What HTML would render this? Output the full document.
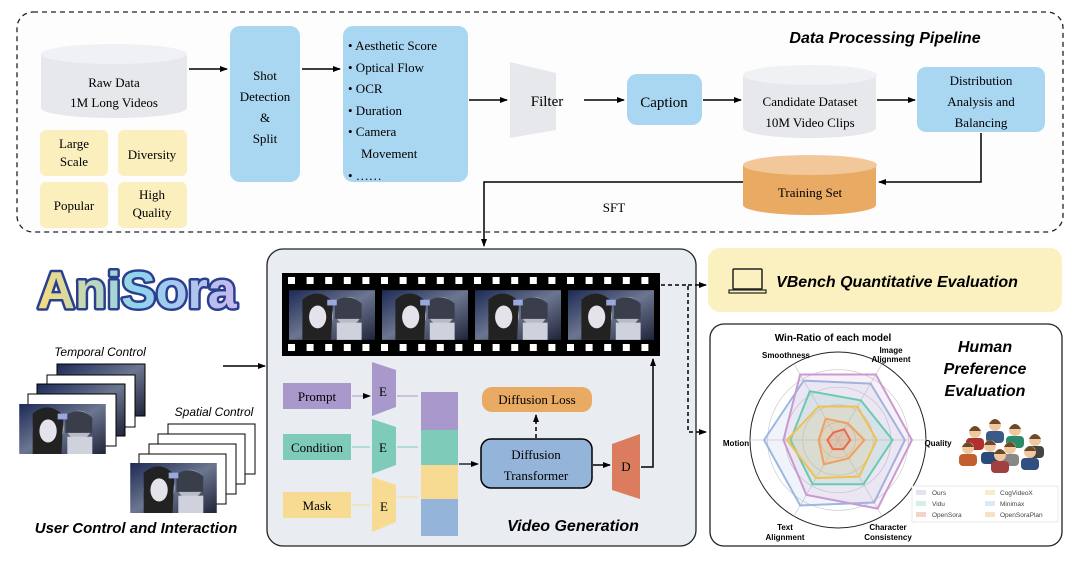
<!DOCTYPE html>
<html><head><meta charset="utf-8"><style>
body{margin:0;background:#fff}
svg{font-family:"Liberation Serif",serif}
.s,.s text{font-family:"Liberation Sans","DejaVu Sans",sans-serif}
</style></head><body>
<svg id="g" width="1080" height="562" viewBox="0 0 1080 562" xmlns="http://www.w3.org/2000/svg">
<defs>
<marker id="a" markerWidth="8" markerHeight="8" refX="7" refY="4" orient="auto" markerUnits="userSpaceOnUse"><path d="M0,1 L8,4 L0,7 z" fill="#000"/></marker>
<linearGradient id="fr" x1="0" y1="0" x2="1" y2="1"><stop offset="0" stop-color="#1d2a55"/><stop offset="0.5" stop-color="#6c7690"/><stop offset="1" stop-color="#20243a"/></linearGradient>
<linearGradient id="logo" x1="0" x2="1"><stop offset="0" stop-color="#f7dc7a"/><stop offset="0.5" stop-color="#8fd3ef"/><stop offset="1" stop-color="#c9b8ee"/></linearGradient>
<symbol id="pic" viewBox="0 0 90 52"><rect width="90" height="52" fill="url(#fr)"/><ellipse cx="30" cy="26" rx="16" ry="20" fill="#d6d6e0"/><path d="M14 10 Q30 -4 46 12 L44 52 L14 52z" fill="#222"/><ellipse cx="30" cy="28" rx="9" ry="12" fill="#e4e2ea"/><ellipse cx="62" cy="22" rx="14" ry="15" fill="#b8bcc8"/><path d="M48 12 Q62 2 76 14 L76 30 L48 30z" fill="#3a3d4a"/><rect x="50" y="34" width="26" height="18" fill="#cfd2dc"/><rect x="40" y="10" width="10" height="6" fill="#9aa8e0"/></symbol>
</defs>
<rect width="1080" height="562" fill="#fff"/>
<rect x="17" y="12" width="1046" height="220" rx="16" fill="#fdfdfe" stroke="#222" stroke-width="1.3" stroke-dasharray="5,4"/>
<text x="885" y="43" font-size="16" font-weight="bold" font-style="italic" class="s" text-anchor="middle">Data Processing Pipeline</text>
<path d="M41 54 L41 108 A73 10 0 0 0 187 108 L187 54" fill="#e6e8ec"/>
<ellipse cx="114" cy="54" rx="73" ry="10" fill="#eff1f4"/>
<text x="114" y="87" font-size="13" text-anchor="middle">Raw Data</text>
<text x="114" y="107" font-size="13" text-anchor="middle">1M Long Videos</text>
<g fill="#fbefbe"><rect x="40" y="130" width="68" height="46" rx="6"/><rect x="118" y="130" width="69" height="46" rx="6"/><rect x="40" y="182" width="68" height="46" rx="6"/><rect x="118" y="182" width="69" height="46" rx="6"/></g>
<g font-size="13" text-anchor="middle"><text x="74" y="148">Large</text><text x="74" y="166">Scale</text><text x="152" y="159">Diversity</text><text x="74" y="210">Popular</text><text x="152" y="199">High</text><text x="152" y="217">Quality</text></g>
<line x1="189" y1="69" x2="227" y2="69" stroke="#000" stroke-width="1.5" marker-end="url(#a)"/>
<rect x="230" y="26" width="70" height="156" rx="10" fill="#a9d6f1"/>
<g font-size="13" text-anchor="middle"><text x="265" y="80">Shot</text><text x="265" y="101">Detection</text><text x="265" y="122">&amp;</text><text x="265" y="143">Split</text></g>
<line x1="302" y1="69" x2="340" y2="69" stroke="#000" stroke-width="1.5" marker-end="url(#a)"/>
<rect x="343" y="26" width="125" height="156" rx="10" fill="#a9d6f1"/>
<g font-size="13"><text x="348" y="50">• Aesthetic Score</text><text x="348" y="72">• Optical Flow</text><text x="348" y="93">• OCR</text><text x="348" y="115">• Duration</text><text x="348" y="136">• Camera</text><text x="361" y="158">Movement</text><text x="348" y="180">• ……</text></g>
<line x1="469" y1="100" x2="507" y2="100" stroke="#000" stroke-width="1.5" marker-end="url(#a)"/>
<path d="M510 62 L556 73 L556 130 L510 138z" fill="#e6e8ec"/>
<text x="547" y="106" font-size="15" text-anchor="middle">Filter</text>
<line x1="584" y1="100" x2="624" y2="100" stroke="#000" stroke-width="1.5" marker-end="url(#a)"/>
<rect x="627" y="74" width="75" height="51" rx="10" fill="#a9d6f1"/>
<text x="664" y="107" font-size="15" text-anchor="middle">Caption</text>
<line x1="703" y1="100" x2="741" y2="100" stroke="#000" stroke-width="1.5" marker-end="url(#a)"/>
<path d="M743 75 L743 128 A66 10 0 0 0 876 128 L876 75" fill="#e6e8ec"/>
<ellipse cx="810" cy="75" rx="67" ry="10" fill="#eff1f4"/>
<text x="810" y="106" font-size="13" text-anchor="middle">Candidate Dataset</text>
<text x="810" y="127" font-size="13" text-anchor="middle">10M Video Clips</text>
<line x1="877" y1="100" x2="915" y2="100" stroke="#000" stroke-width="1.5" marker-end="url(#a)"/>
<rect x="917" y="67" width="128" height="65" rx="9" fill="#a9d6f1"/>
<g font-size="13" text-anchor="middle"><text x="981" y="85">Distribution</text><text x="981" y="106">Analysis and</text><text x="981" y="127">Balancing</text></g>
<path d="M981 133 L981 182 L879 182" fill="none" stroke="#000" stroke-width="1.5" marker-end="url(#a)"/>
<path d="M743 165 L743 205 A66 10 0 0 0 876 205 L876 165" fill="#e9aa64"/>
<ellipse cx="810" cy="165" rx="67" ry="10" fill="#f2c89a"/>
<text x="810" y="197" font-size="13" text-anchor="middle">Training Set</text>
<path d="M743 182 L484 182 L484 246" fill="none" stroke="#000" stroke-width="1.5" marker-end="url(#a)"/>
<text x="614" y="212" font-size="13" text-anchor="middle">SFT</text>
<text x="137" y="308" font-size="52" font-weight="bold" class="s" text-anchor="middle" fill="url(#logo)" stroke="#2b3f8f" stroke-width="5" stroke-linejoin="round" paint-order="stroke">AniSora</text>
<text x="100" y="356" font-size="12" font-style="italic" class="s" text-anchor="middle">Temporal Control</text>
<rect x="57" y="364" width="88" height="52" fill="url(#fr)" stroke="#000"/>
<rect x="47" y="375" width="88" height="52" fill="#fff" stroke="#000"/>
<rect x="37" y="384" width="88" height="52" fill="url(#fr)" stroke="#000"/>
<rect x="28" y="394" width="88" height="52" fill="#fff" stroke="#000"/>
<use href="#pic" x="19" y="404" width="87" height="50"/>
<text x="214" y="416" font-size="12" font-style="italic" class="s" text-anchor="middle">Spatial Control</text>
<rect x="168" y="424" width="87" height="50" fill="#fff" stroke="#000"/>
<rect x="158" y="434" width="87" height="50" fill="#fff" stroke="#000"/>
<rect x="149" y="444" width="87" height="50" fill="#fff" stroke="#000"/>
<rect x="139" y="454" width="87" height="50" fill="#fff" stroke="#000"/>
<use href="#pic" x="130" y="463" width="87" height="50"/>
<text x="136" y="533" font-size="15" font-weight="bold" font-style="italic" class="s" text-anchor="middle">User Control and Interaction</text>
<line x1="223" y1="366" x2="265" y2="366" stroke="#000" stroke-width="1.5" marker-end="url(#a)"/>
<rect x="267" y="249" width="429" height="297" rx="16" fill="#e9edf2" stroke="#222" stroke-width="1.3"/>
<rect x="282" y="273" width="378" height="83" fill="#000"/>
<g id="holes" fill="#fff"></g>
<use href="#pic" x="289" y="290" width="86" height="50"/>
<use href="#pic" x="382" y="290" width="86" height="50"/>
<use href="#pic" x="475" y="290" width="86" height="50"/>
<use href="#pic" x="568" y="290" width="86" height="50"/>
<path d="M661 285 L688 285 L688 432 L706 432" fill="none" stroke="#000" stroke-width="1.5" stroke-dasharray="4,3" marker-end="url(#a)"/>
<line x1="688" y1="285" x2="706" y2="285" stroke="#000" stroke-width="1.5" stroke-dasharray="4,3" marker-end="url(#a)"/>
<rect x="283" y="383" width="68" height="26" fill="#a898cc"/><text x="317" y="401" font-size="13" text-anchor="middle">Prompt</text>
<rect x="283" y="434" width="68" height="26" fill="#7fcbb9"/><text x="317" y="452" font-size="13" text-anchor="middle">Condition</text>
<rect x="283" y="492" width="68" height="26" fill="#f7db93"/><text x="317" y="510" font-size="13" text-anchor="middle">Mask</text>
<path d="M372 362 L396 370 L396 407 L372 416z" fill="#a898cc"/><text x="383" y="396" font-size="13" text-anchor="middle">E</text>
<path d="M372 419 L396 427 L396 465 L372 474z" fill="#7fcbb9"/><text x="383" y="452" font-size="13" text-anchor="middle">E</text>
<path d="M372 477 L396 485 L396 522 L372 532z" fill="#f7db93"/><text x="384" y="511" font-size="13" text-anchor="middle">E</text>
<g stroke-width="1" fill="none"><line x1="352" y1="396" x2="370" y2="396" stroke="#a898cc" marker-end="url(#a)"/><line x1="397" y1="396" x2="418" y2="396" stroke="#a898cc"/><line x1="352" y1="447" x2="370" y2="447" stroke="#7fcbb9"/><line x1="397" y1="447" x2="418" y2="447" stroke="#7fcbb9"/><line x1="352" y1="505" x2="370" y2="505" stroke="#f7db93"/><line x1="397" y1="497" x2="418" y2="497" stroke="#f7db93"/></g>
<rect x="421" y="392" width="37" height="38" fill="#a898cc"/>
<rect x="421" y="430" width="37" height="35" fill="#7fcbb9"/>
<rect x="421" y="465" width="37" height="34" fill="#f7db93"/>
<rect x="421" y="499" width="37" height="37" fill="#95b4d9"/>
<line x1="459" y1="464" x2="478" y2="464" stroke="#000" stroke-width="1.2" marker-end="url(#a)"/>
<rect x="481" y="439" width="111" height="49" rx="10" fill="#95b4d9" stroke="#000" stroke-width="1.5"/>
<text x="536" y="459" font-size="13" text-anchor="middle">Diffusion</text><text x="536" y="480" font-size="13" text-anchor="middle">Transformer</text>
<rect x="482" y="387" width="110" height="25" rx="10" fill="#e9aa64"/>
<text x="537" y="404" font-size="13" text-anchor="middle">Diffusion Loss</text>
<line x1="536" y1="438" x2="536" y2="415" stroke="#000" stroke-width="1.5" stroke-dasharray="4,3" marker-end="url(#a)"/>
<line x1="593" y1="465" x2="610" y2="465" stroke="#000" stroke-width="1.5" marker-end="url(#a)"/>
<path d="M612 444 L640 434 L640 499 L612 490z" fill="#dc7c5e"/><text x="626" y="471" font-size="13" text-anchor="middle">D</text>
<path d="M641 467 L653 467 L653 359" fill="none" stroke="#000" stroke-width="1.5" marker-end="url(#a)"/>
<text x="573" y="531" font-size="16" font-weight="bold" font-style="italic" class="s" text-anchor="middle">Video Generation</text>
<rect x="708" y="248" width="354" height="64" rx="12" fill="#fbf0c0"/>
<rect x="733" y="269" width="29" height="20" rx="1" fill="none" stroke="#222" stroke-width="1.5"/>
<rect x="729" y="290" width="37" height="3" fill="none" stroke="#222" stroke-width="1.2"/>
<text x="897" y="287" font-size="16" font-weight="bold" font-style="italic" class="s" text-anchor="middle">VBench Quantitative Evaluation</text>
<rect x="710" y="324" width="352" height="222" rx="14" fill="#fff" stroke="#222" stroke-width="1.3"/>
<text x="833" y="341" font-size="10" font-weight="bold" class="s" text-anchor="middle">Win-Ratio of each model</text>
<g id="radar"></g>
<g font-size="8" font-weight="bold" class="s" text-anchor="middle">
<text x="786" y="358">Smoothness</text><text x="891" y="353">Image</text><text x="891" y="362">Alignment</text>
<text x="938" y="446">Quality</text><text x="736" y="446">Motion</text>
<text x="785" y="530">Text</text><text x="785" y="540">Alignment</text>
<text x="888" y="530">Character</text><text x="888" y="540">Consistency</text></g>
<g font-size="16" font-weight="bold" font-style="italic" class="s" text-anchor="middle"><text x="985" y="352">Human</text><text x="985" y="374">Preference</text><text x="985" y="396">Evaluation</text></g>
<g id="people"></g>
<rect x="912" y="486" width="146" height="36" fill="#fff" stroke="#ddd" stroke-width="0.6"/>
<g font-size="6.5" class="s" fill="#444">
<rect x="916" y="490" width="10" height="5" fill="#e8dff0"/><text x="932" y="495">Ours</text>
<rect x="916" y="501" width="10" height="5" fill="#d3efe8"/><text x="932" y="506">Vidu</text>
<rect x="916" y="512" width="10" height="5" fill="#f6d3c8"/><text x="932" y="517">OpenSora</text>
<rect x="985" y="490" width="10" height="5" fill="#f7ecd0"/><text x="1000" y="495">CogVideoX</text>
<rect x="985" y="501" width="10" height="5" fill="#dde7f5"/><text x="1000" y="506">Minimax</text>
<rect x="985" y="512" width="10" height="5" fill="#f7e1cc"/><text x="1000" y="517">OpenSoraPlan</text></g>
</svg>
<script>
var NS="http://www.w3.org/2000/svg";
function el(p,t,a){var e=document.createElementNS(NS,t);for(var k in a)e.setAttribute(k,a[k]);p.appendChild(e);return e;}
var h=document.getElementById('holes');
for(var i=0;i<20;i++){var x=288+i*18.6;el(h,'rect',{x:x,y:277,width:7,height:7});el(h,'rect',{x:x,y:344,width:7,height:7});}
var r=document.getElementById('radar'),cx=838,cy=440,R=88;
el(r,'circle',{cx:cx,cy:cy,r:R,fill:'#fff',stroke:'#222','stroke-width':1});
for(var k=1;k<5;k++)el(r,'circle',{cx:cx,cy:cy,r:R*k/5,fill:'none',stroke:'#ccc','stroke-width':0.7});
var ang=[120,60,0,-60,-120,180];
ang.forEach(function(a){var t=a*Math.PI/180;el(r,'line',{x1:cx,y1:cy,x2:cx+R*Math.cos(t),y2:cy-R*Math.sin(t),stroke:'#ccc','stroke-width':0.7});});
var S=[["#9ab8e0",[3.9,3.7,3.8,4.1,4.3,4.2]],["#c89ad0",[4.3,4.3,4.2,4.5,3.6,3.1]],["#6cc9b0",[3.2,2.6,3.1,2.9,2.9,2.7]],["#f0c050",[2.2,2.2,2.2,2.4,2.5,2.9]],["#f0a060",[1.4,1.1,1.5,1.2,1.6,1.1]],["#e86a50",[0.5,0.7,0.7,0.6,0.6,0.6]]];
S.forEach(function(s){var p=s[1].map(function(v,i){var t=ang[i]*Math.PI/180;return (cx+R*v/5*Math.cos(t)).toFixed(1)+","+(cy-R*v/5*Math.sin(t)).toFixed(1);}).join(" ");el(r,'polygon',{points:p,fill:s[0],'fill-opacity':0.15,stroke:s[0],'stroke-width':2});});
var pg=document.getElementById('people');
var cols=["#b03030","#3a5a8a","#2a8a6a","#444","#c06030","#2a4a7a","#888","#305080","#a04040"];
var pos=[[975,432],[995,425],[1015,430],[1035,440],[968,448],[990,446],[1010,448],[1030,452],[1000,455]];
pos.forEach(function(p,i){el(pg,'rect',{x:p[0]-9,y:p[1]+6,width:18,height:12,rx:4,fill:cols[i]});el(pg,'circle',{cx:p[0],cy:p[1],r:6,fill:'#f0c8a0'});el(pg,'path',{d:'M'+(p[0]-6)+' '+(p[1]-1)+' Q'+p[0]+' '+(p[1]-11)+' '+(p[0]+6)+' '+(p[1]-1)+'z',fill:'#6a4a2a'});});
</script>
</body></html>
